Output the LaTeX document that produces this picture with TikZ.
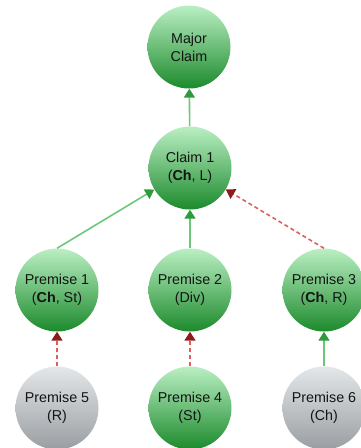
\documentclass[tikz,border=0pt]{standalone}
\usepackage{fontspec}
\setmainfont{Liberation Sans}
\usetikzlibrary{arrows.meta}

\definecolor{gtop}{HTML}{BAEFC3}
\definecolor{gbot}{HTML}{1C8A2C}
\definecolor{stop}{HTML}{E4E7E9}
\definecolor{sbot}{HTML}{9A9EA2}
\definecolor{supline}{HTML}{6CC879}
\definecolor{suptip}{HTML}{2E9A3C}
\definecolor{attline}{HTML}{DE5F5A}
\definecolor{atttip}{HTML}{8E1B1B}

\tikzset{
  claimnode/.style={circle, minimum size=83pt, inner sep=0pt, align=center,
    font=\fontsize{14.3}{18}\selectfont, text=black!92,
    execute at begin node={\rule{0pt}{21pt}}},
  greennode/.style={claimnode, top color=gtop, bottom color=gbot},
  greynode/.style={claimnode, top color=stop, bottom color=sbot},
  support/.style={draw=supline, line width=1.6pt,
    -{Triangle[length=9pt,width=11pt,color=suptip]}},
  attack/.style={draw=attline, line width=1.6pt, dash pattern=on 4pt off 3pt,
    -{Triangle[length=9pt,width=11pt,color=atttip]}}
}

\begin{document}
\begin{tikzpicture}[x=1pt, y=-1pt]
  \useasboundingbox (0,0) rectangle (360,448);

  % argument nodes
  \node[greennode] (major) at (189,47)  {Major\\Claim};
  \node[greennode] (c1)    at (190,168) {Claim 1\\(\textbf{Ch}, L)};
  \node[greennode] (p1)    at (57,290)  {Premise 1\\(\textbf{Ch}, St)};
  \node[greennode] (p2)    at (190,290) {Premise 2\\(Div)};
  \node[greennode] (p3)    at (324,290) {Premise 3\\(\textbf{Ch}, R)};
  \node[greynode]  (p5)    at (57,408)  {Premise 5\\(R)};
  \node[greennode] (p4)    at (190,408) {Premise 4\\(St)};
  \node[greynode]  (p6)    at (324,408) {Premise 6\\(Ch)};

  % support relations
  \draw[support] (c1) -- (major);
  \draw[support] (p1.north) -- (c1);
  \draw[support] (p2) -- (c1);
  \draw[support] (p6) -- (p3);

  % attack relations
  \draw[attack] (p3.north) -- (c1);
  \draw[attack] (p5) -- (p1);
  \draw[attack] (p4) -- (p2);
\end{tikzpicture}
\end{document}
